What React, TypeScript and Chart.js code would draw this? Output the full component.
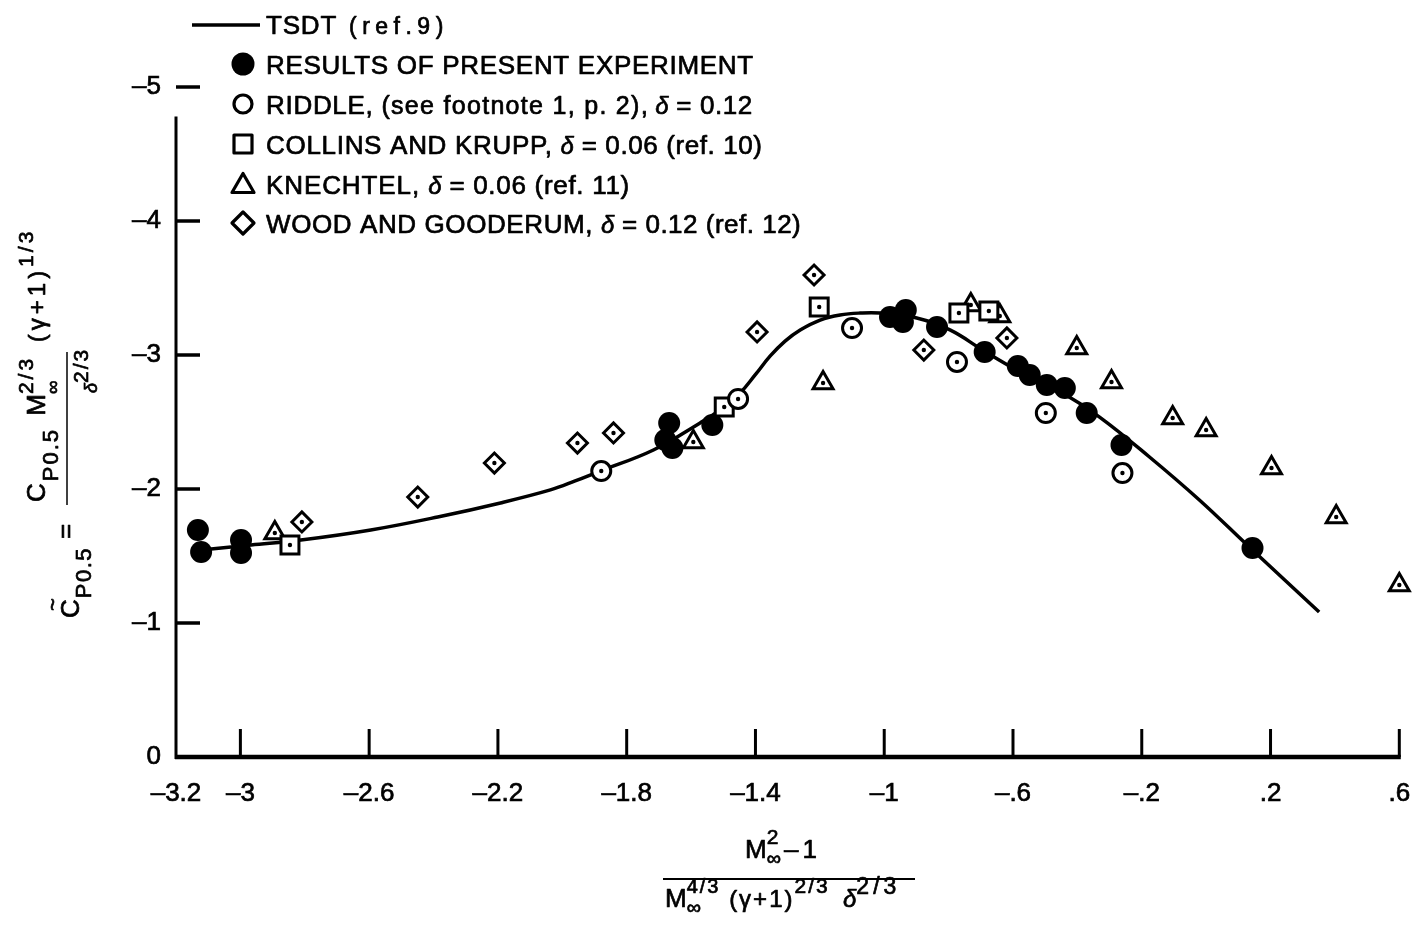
import React, { useEffect, useRef } from "react";
import { Chart, registerables } from "chart.js";

Chart.register(...registerables);

const FONT = '"Liberation Sans", Arial, Helvetica, sans-serif';

// TSDT theory curve (ref. 9)
const tsdtX = [-3.153, -2.967, -2.812, -2.595, -2.387, -2.192, -2.037, -1.960, -1.882, -1.717, -1.572, -1.510, -1.448, -1.401, -1.354, -1.308, -1.261, -1.199, -1.137, -1.075, -1.013, -0.899, -0.796, -0.694, -0.588, -0.446, -0.331, -0.176, -0.021, 0.134, 0.351];
const tsdtY = [-1.537, -1.582, -1.619, -1.694, -1.791, -1.896, -1.993, -2.060, -2.134, -2.291, -2.493, -2.590, -2.716, -2.851, -2.993, -3.104, -3.187, -3.261, -3.299, -3.313, -3.313, -3.276, -3.187, -3.037, -2.888, -2.716, -2.537, -2.239, -1.918, -1.567, -1.082];

// Results of present experiment
const presentX = [-3.132, -3.122, -2.998, -2.998, -1.668, -1.680, -1.658, -1.534, -0.982, -0.933, -0.942, -0.836, -0.688, -0.585, -0.548, -0.495, -0.439, -0.371, -0.263, 0.144];
const presentY = [-1.694, -1.530, -1.619, -1.522, -2.493, -2.366, -2.306, -2.478, -3.284, -3.336, -3.246, -3.209, -3.022, -2.918, -2.851, -2.776, -2.754, -2.567, -2.328, -1.560];

// Riddle, delta = 0.12
const riddleX = [-1.879, -1.454, -1.100, -0.774, -0.498, -0.260];
const riddleY = [-2.134, -2.672, -3.201, -2.948, -2.567, -2.119];

// Collins and Krupp, delta = 0.06
const collinsX = [-2.846, -1.497, -1.202, -0.768, -0.675];
const collinsY = [-1.582, -2.612, -3.358, -3.313, -3.328];

// Knechtel, delta = 0.06
const knechtelX = [-2.893, -1.593, -1.190, -0.731, -0.641, -0.402, -0.294, -0.104, 0.0, 0.203, 0.404, 0.6];
const knechtelY = [-1.672, -2.351, -2.791, -3.373, -3.291, -3.052, -2.799, -2.530, -2.440, -2.157, -1.791, -1.284];

// Wood and Gooderum, delta = 0.12
const woodX = [-2.809, -2.449, -2.211, -1.953, -1.841, -1.395, -1.218, -0.877, -0.619];
const woodY = [-1.754, -1.940, -2.194, -2.343, -2.418, -3.172, -3.597, -3.037, -3.127];

const xTickValues = [-3.2, -3, -2.6, -2.2, -1.8, -1.4, -1, -0.6, -0.2, 0.2, 0.6];
const xTickLabels = ["\u20133.2", "\u20133", "\u20132.6", "\u20132.2", "\u20131.8", "\u20131.4", "\u20131", "\u2013.6", "\u2013.2", ".2", ".6"];
const yTickValues = [0, -1, -2, -3, -4, -5];
const yTickLabels = ["0", "\u20131", "\u20132", "\u20133", "\u20134", "\u20135"];

const pts = (xs: number[], ys: number[]) => xs.map((x, i) => ({ x, y: ys[i] }));

type Seg = { t: string; size: number; dy?: number; italic?: boolean; bold?: boolean; ls?: number; stack?: boolean; dx?: number };

function drawRich(ctx: CanvasRenderingContext2D, x: number, y: number, segs: Seg[]) {
  let cx = x;
  let lastStart = x;
  let lastEnd = x;
  ctx.lineWidth = 0.7;
  ctx.lineJoin = "round";
  for (const s of segs) {
    ctx.font = `${s.italic ? "italic " : ""}${s.bold ? "bold " : ""}${s.size}px ${FONT}`;
    (ctx as any).letterSpacing = `${s.ls || 0}px`;
    const w = ctx.measureText(s.t).width;
    const start = (s.stack ? lastStart : cx) + (s.dx || 0);
    ctx.fillText(s.t, start, y + (s.dy || 0));
    ctx.strokeText(s.t, start, y + (s.dy || 0));
    if (s.stack) {
      cx = Math.max(lastEnd, start + w);
    } else {
      lastStart = start;
      cx = start + w;
    }
    lastEnd = start + w;
  }
  (ctx as any).letterSpacing = "0px";
}

function marker(ctx: CanvasRenderingContext2D, kind: string, x: number, y: number) {
  ctx.save();
  ctx.strokeStyle = "#000";
  ctx.fillStyle = "#000";
  ctx.lineWidth = 3.2;
  ctx.beginPath();
  if (kind === "filled") {
    ctx.arc(x, y, 11.5, 0, Math.PI * 2);
    ctx.fill();
  } else if (kind === "circle") {
    ctx.arc(x, y, 9, 0, Math.PI * 2);
    ctx.stroke();
  } else if (kind === "square") {
    ctx.rect(x - 9, y - 9, 18, 18);
    ctx.stroke();
  } else if (kind === "triangle") {
    ctx.moveTo(x, y - 10.5);
    ctx.lineTo(x + 11, y + 8.5);
    ctx.lineTo(x - 11, y + 8.5);
    ctx.closePath();
    ctx.stroke();
  } else if (kind === "diamond") {
    ctx.moveTo(x, y - 11);
    ctx.lineTo(x + 11, y);
    ctx.lineTo(x, y + 11);
    ctx.lineTo(x - 11, y);
    ctx.closePath();
    ctx.stroke();
  }
  ctx.restore();
}

const bgPlugin = {
  id: "bgWhite",
  beforeDraw(chart: any) {
    const ctx = chart.ctx;
    ctx.save();
    ctx.fillStyle = "#fff";
    ctx.fillRect(0, 0, chart.width, chart.height);
    ctx.restore();
  },
};

const axesPlugin = {
  id: "innerAxes",
  beforeDatasetsDraw(chart: any) {
    const ctx: CanvasRenderingContext2D = chart.ctx;
    const xs = chart.scales.x;
    const ys = chart.scales.y;
    const y0 = ys.getPixelForValue(0);
    const xl = xs.getPixelForValue(-3.2);
    const xr = xs.getPixelForValue(0.6);
    ctx.save();
    ctx.strokeStyle = "#000";
    ctx.lineCap = "butt";
    ctx.lineWidth = 4.5;
    ctx.beginPath();
    ctx.moveTo(xl - 1, y0);
    ctx.lineTo(xr + 1.5, y0);
    ctx.stroke();
    ctx.lineWidth = 3;
    ctx.beginPath();
    ctx.moveTo(xl, y0 + 2);
    ctx.lineTo(xl, ys.getPixelForValue(-4.78));
    ctx.stroke();
    ctx.lineWidth = 3;
    xTickValues.forEach((v) => {
      if (v <= -3.2) return;
      const px = xs.getPixelForValue(v);
      ctx.beginPath();
      ctx.moveTo(px, y0);
      ctx.lineTo(px, y0 - 28);
      ctx.stroke();
    });
    ctx.lineWidth = 3.5;
    yTickValues.forEach((v) => {
      if (v === 0) return;
      const py = ys.getPixelForValue(v);
      ctx.beginPath();
      ctx.moveTo(xl, py);
      ctx.lineTo(xl + 24, py);
      ctx.stroke();
    });
    ctx.restore();
  },
  afterDraw(chart: any) {
    const ctx: CanvasRenderingContext2D = chart.ctx;
    ctx.save();
    ctx.fillStyle = "#000";
    ctx.strokeStyle = "#000";
    ctx.textBaseline = "alphabetic";
    ctx.textAlign = "left";

    // ---- legend ----
    const mx = 243;
    const tx = 266;
    const rows = [24, 64, 104, 144, 184, 223];
    ctx.lineWidth = 3.5;
    ctx.beginPath();
    ctx.moveTo(192, rows[0] + 1);
    ctx.lineTo(260, rows[0] + 1);
    ctx.stroke();
    drawRich(ctx, tx, rows[0] + 9.5, [
      { t: "TSDT", size: 26, ls: 0.8 },
      { t: " (ref.9)", size: 23, ls: 5.5 },
    ]);
    marker(ctx, "filled", mx, rows[1]);
    drawRich(ctx, tx, rows[1] + 9.5, [{ t: "RESULTS OF PRESENT EXPERIMENT", size: 26, ls: 0.7 }]);
    marker(ctx, "circle", mx, rows[2]);
    drawRich(ctx, tx, rows[2] + 9.5, [
      { t: "RIDDLE, ", size: 26, ls: 0.7 },
      { t: "(see footnote 1, p. 2)", size: 25, ls: 1.3 },
      { t: ", ", size: 26 },
      { t: "\u03B4", size: 24, italic: true },
      { t: " = 0.12", size: 26, ls: 0.6 },
    ]);
    marker(ctx, "square", mx, rows[3]);
    drawRich(ctx, tx, rows[3] + 9.5, [
      { t: "COLLINS AND KRUPP, ", size: 26, ls: 0.7 },
      { t: "\u03B4", size: 24, italic: true },
      { t: " = 0.06 (ref. 10)", size: 26, ls: 0.6 },
    ]);
    marker(ctx, "triangle", mx, rows[4]);
    drawRich(ctx, tx, rows[4] + 9.5, [
      { t: "KNECHTEL, ", size: 26, ls: 0.9 },
      { t: "\u03B4", size: 24, italic: true },
      { t: " = 0.06 (ref. 11)", size: 26, ls: 0.7 },
    ]);
    marker(ctx, "diamond", mx, rows[5]);
    drawRich(ctx, tx, rows[5] + 9.5, [
      { t: "WOOD AND GOODERUM, ", size: 26, ls: 0.6 },
      { t: "\u03B4", size: 24, italic: true },
      { t: " = 0.12 (ref. 12)", size: 26, ls: 0.5 },
    ]);

    // ---- x-axis title (fraction) ----
    drawRich(ctx, 745, 858, [
      { t: "M", size: 26 },
      { t: "2", size: 21, dy: -14 },
      { t: "\u221E", size: 20, dy: 7, stack: true },
      { t: "\u20131", size: 26, ls: 4, dx: 3 },
    ]);
    ctx.lineWidth = 2;
    ctx.beginPath();
    ctx.moveTo(663, 879);
    ctx.lineTo(915, 879);
    ctx.stroke();
    drawRich(ctx, 665, 907, [
      { t: "M", size: 26 },
      { t: "4/3", size: 20, dy: -14, ls: 2 },
      { t: "\u221E", size: 20, dy: 7, stack: true },
      { t: " (\u03B3+1)", size: 24, ls: 2 },
      { t: "2/3", size: 21, dy: -14, ls: 2 },
      { t: "  \u03B4", size: 24, italic: true },
      { t: "2/3", size: 23, dy: -13, ls: 4 },
    ]);

    // ---- y-axis title (rotated) ----
    const rot = (bx: number, by: number, segs: Seg[]) => {
      ctx.save();
      ctx.translate(bx, by);
      ctx.rotate(-Math.PI / 2);
      drawRich(ctx, 0, 0, segs);
      ctx.restore();
    };
    rot(79, 618, [
      { t: "C", size: 26 },
      { t: "P0.5", size: 22, dy: 12, ls: 1.5, dx: 1 },
    ]);
    rot(60, 611, [{ t: "~", size: 22 }]);
    rot(74, 539, [{ t: "=", size: 26 }]);
    rot(45, 502, [
      { t: "C", size: 26 },
      { t: "P0.5", size: 22, dy: 13, ls: 2, dx: 2 },
      { t: " M", size: 26, dx: 5 },
      { t: "\u221E", size: 19, dy: 14 },
      { t: "2/3", size: 21, dy: -12, ls: 3, stack: true },
      { t: " (\u03B3+1)", size: 24, ls: 4, dx: 3 },
      { t: "1/3", size: 21, dy: -12, ls: 3 },
    ]);
    rot(97, 393, [
      { t: "\u03B4", size: 18, italic: true },
      { t: "2/3", size: 21, dy: -9, ls: 2 },
    ]);
    ctx.lineWidth = 1.5;
    ctx.beginPath();
    ctx.moveTo(67, 505);
    ctx.lineTo(67, 352);
    ctx.stroke();

    ctx.restore();
  },
};

export default function App() {
  const ref = useRef<HTMLCanvasElement | null>(null);
  useEffect(() => {
    document.body.style.margin = "0";
    const canvas = ref.current;
    if (!canvas) return;
    const openDot = (xs: number[], ys: number[]) => ({
      data: pts(xs, ys),
      pointStyle: "circle",
      pointRadius: 2.2,
      pointBackgroundColor: "#000",
      pointBorderWidth: 0,
      showLine: false,
      clip: false as any,
      order: 1,
    });
    const tickFont = { family: FONT, size: 26 };
    const chart = new Chart(canvas, {
      type: "scatter",
      data: {
        datasets: [
          {
            label: "TSDT (ref.9)",
            data: pts(tsdtX, tsdtY),
            showLine: true,
            borderColor: "#000",
            borderWidth: 3.5,
            pointRadius: 0,
            tension: 0.4,
            fill: false,
            order: 10,
          } as any,
          {
            label: "RESULTS OF PRESENT EXPERIMENT",
            data: pts(presentX, presentY),
            pointStyle: "circle",
            pointRadius: 11,
            pointBackgroundColor: "#000",
            pointBorderColor: "#000",
            pointBorderWidth: 0,
            clip: false,
            order: 5,
          } as any,
          {
            label: "RIDDLE",
            data: pts(riddleX, riddleY),
            pointStyle: "circle",
            pointRadius: 9.5,
            pointBackgroundColor: "#fff",
            pointBorderColor: "#000",
            pointBorderWidth: 3,
            clip: false,
            order: 4,
          } as any,
          {
            label: "COLLINS AND KRUPP",
            data: pts(collinsX, collinsY),
            pointStyle: "rect",
            pointRadius: 12.7,
            pointBackgroundColor: "#fff",
            pointBorderColor: "#000",
            pointBorderWidth: 3,
            clip: false,
            order: 4,
          } as any,
          {
            label: "KNECHTEL",
            data: pts(knechtelX, knechtelY),
            pointStyle: "triangle",
            pointRadius: 11.5,
            pointBackgroundColor: "#fff",
            pointBorderColor: "#000",
            pointBorderWidth: 3,
            clip: false,
            order: 4,
          } as any,
          {
            label: "WOOD AND GOODERUM",
            data: pts(woodX, woodY),
            pointStyle: "rectRot",
            pointRadius: 10,
            pointBackgroundColor: "#fff",
            pointBorderColor: "#000",
            pointBorderWidth: 3,
            clip: false,
            order: 4,
          } as any,
          openDot(riddleX, riddleY),
          openDot(collinsX, collinsY),
          openDot(knechtelX, knechtelY),
          openDot(woodX, woodY),
        ],
      },
      options: {
        responsive: false,
        animation: false,
        events: [],
        layout: { padding: { left: 0, right: 15, top: 87, bottom: 0 } },
        plugins: { legend: { display: false }, tooltip: { enabled: false }, title: { display: false } },
        scales: {
          x: {
            type: "linear",
            min: -3.2,
            max: 0.6,
            grid: { display: false, drawTicks: false },
            border: { display: false },
            afterBuildTicks: (s: any) => {
              s.ticks = xTickValues.map((v) => ({ value: v }));
            },
            afterFit: (s: any) => {
              s.height = 928 - 757;
              s.paddingLeft = 0;
              s.paddingRight = 0;
            },
            ticks: {
              autoSkip: false,
              maxRotation: 0,
              minRotation: 0,
              padding: 21,
              color: "#000",
              textStrokeColor: "#000",
              textStrokeWidth: 0.7,
              font: tickFont,
              callback: (_v: any, i: number) => xTickLabels[i],
            },
          },
          y: {
            type: "linear",
            min: -5,
            max: 0,
            reverse: true,
            grid: { display: false, drawTicks: false },
            border: { display: false },
            afterBuildTicks: (s: any) => {
              s.ticks = yTickValues.map((v) => ({ value: v }));
            },
            afterFit: (s: any) => {
              s.width = 176;
              s.paddingTop = 0;
              s.paddingBottom = 0;
            },
            ticks: {
              padding: 15,
              color: "#000",
              textStrokeColor: "#000",
              textStrokeWidth: 0.7,
              font: tickFont,
              callback: (_v: any, i: number) => yTickLabels[i],
            },
          },
        },
      } as any,
      plugins: [bgPlugin, axesPlugin],
    });
    return () => chart.destroy();
  }, []);
  return (
    <div style={{ width: 1415, height: 928, position: "relative", background: "#fff" }}>
      <canvas ref={ref} width={1415} height={928} style={{ display: "block", width: 1415, height: 928 }} />
    </div>
  );
}
